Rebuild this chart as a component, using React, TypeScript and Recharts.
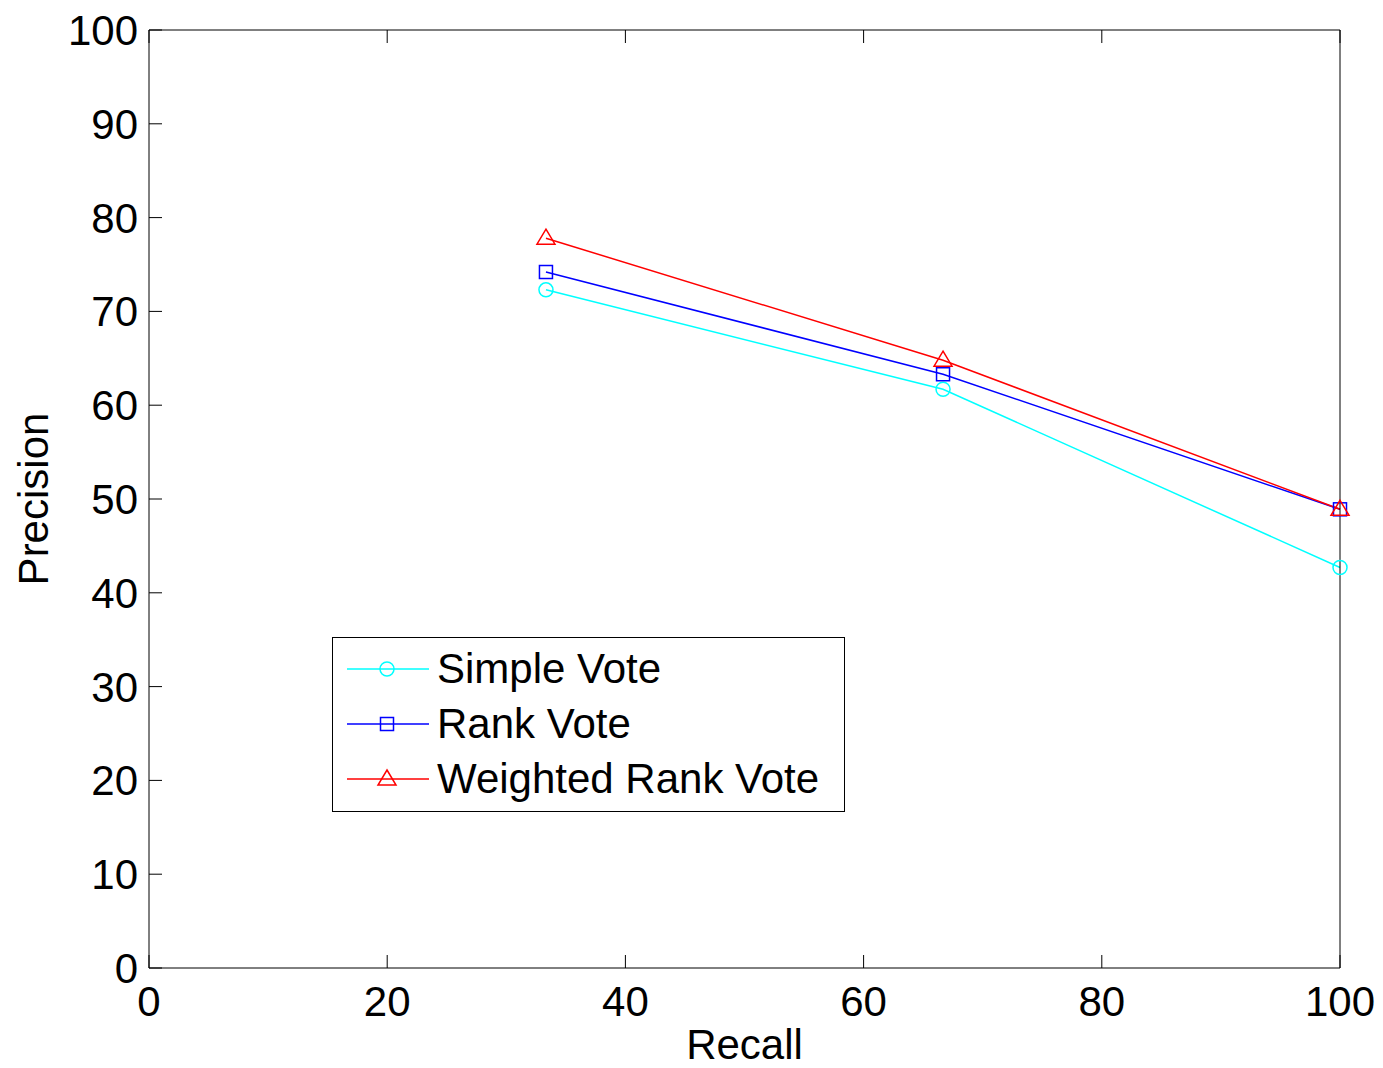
import { LineChart, Line, XAxis, YAxis, Legend } from "recharts";

const recall = [33.33, 66.67, 100];
const simpleVote = [72.3, 61.7, 42.7];
const rankVote = [74.2, 63.3, 48.9];
const weightedRankVote = [77.8, 64.8, 48.9];
const xTicks = [0, 20, 40, 60, 80, 100];
const yTicks = [0, 10, 20, 30, 40, 50, 60, 70, 80, 90, 100];
const seriesNames = ["Simple Vote", "Rank Vote", "Weighted Rank Vote"];

const data = recall.map((r, i) => ({
  recall: r,
  simple: simpleVote[i],
  rank: rankVote[i],
  weighted: weightedRankVote[i],
}));

const FONT = "'Liberation Sans', Arial, Helvetica, sans-serif";
const TICK_LEN = 13;

const shapes: Record<string, string> = {
  "Simple Vote": "circle",
  "Rank Vote": "square",
  "Weighted Rank Vote": "triangle",
};

const Marker = ({ shape, cx, cy, color }: any) => {
  if (shape === "circle")
    return <circle cx={cx} cy={cy} r={7} fill="none" stroke={color} strokeWidth={1.5} />;
  if (shape === "square")
    return (
      <rect x={cx - 6.5} y={cy - 6.5} width={13} height={13} fill="none" stroke={color} strokeWidth={1.5} />
    );
  return (
    <polygon
      points={`${cx},${cy - 9} ${cx + 9},${cy + 6} ${cx - 9},${cy + 6}`}
      fill="none"
      stroke={color}
      strokeWidth={1.5}
    />
  );
};

const makeDot = (shape: string, color: string) => (props: any) => (
  <Marker key={`${shape}-${props.index}`} shape={shape} cx={props.cx} cy={props.cy} color={color} />
);

const BottomTick = ({ x, y, payload }: any) => (
  <g>
    <line x1={x} y1={y} x2={x} y2={y - TICK_LEN} stroke="#000" />
    <text x={x} y={y + 48} textAnchor="middle" fontSize={42} fontFamily={FONT} fill="#000">
      {payload.value}
    </text>
  </g>
);

const TopTick = ({ x, y }: any) => (
  <line x1={x} y1={y} x2={x} y2={y + TICK_LEN} stroke="#000" />
);

const LeftTick = ({ x, y, payload }: any) => (
  <g>
    <line x1={x} y1={y} x2={x + TICK_LEN} y2={y} stroke="#000" />
    <text x={x - 11} y={y + 15} textAnchor="end" fontSize={42} fontFamily={FONT} fill="#000">
      {payload.value}
    </text>
  </g>
);

const RightTick = ({ x, y }: any) => (
  <line x1={x} y1={y} x2={x - TICK_LEN} y2={y} stroke="#000" />
);

const PrecisionLabel = ({ viewBox }: any) => {
  const cx = viewBox.x + 25;
  const cy = viewBox.y + viewBox.height / 2;
  return (
    <text
      x={cx}
      y={cy}
      transform={`rotate(-90, ${cx}, ${cy})`}
      textAnchor="middle"
      dominantBaseline="central"
      fontSize={42}
      fontFamily={FONT}
      fill="#000"
    >
      Precision
    </text>
  );
};

const LegendBox = ({ payload }: any) => {
  const rows = [32, 87, 142];
  const items = [...(payload || [])].sort(
    (a: any, b: any) => seriesNames.indexOf(a.value) - seriesNames.indexOf(b.value)
  );
  return (
    <svg width={513} height={175} style={{ display: "block" }}>
      <rect x={0.5} y={0.5} width={512} height={174} fill="#fff" stroke="#000" />
      {items.map((item: any, i: number) => (
        <g key={item.value}>
          <line x1={15} y1={rows[i]} x2={97} y2={rows[i]} stroke={item.color} strokeWidth={1.5} />
          <Marker shape={shapes[item.value]} cx={55} cy={rows[i]} color={item.color} />
          <text x={105} y={rows[i] + 14} fontSize={42} fontFamily={FONT} fill="#000">
            {item.value}
          </text>
        </g>
      ))}
    </svg>
  );
};

export default function App() {
  return (
    <LineChart
      width={1375}
      height={1060}
      data={data}
      margin={{ top: 21, right: 42, bottom: 0, left: 0 }}
      style={{ fontFamily: FONT, background: "#fff" }}
    >
      <XAxis
        xAxisId="bottom"
        dataKey="recall"
        type="number"
        domain={[0, 100]}
        ticks={xTicks}
        interval={0}
        height={100}
        tickSize={0}
        tickMargin={0}
        tickLine={false}
        axisLine={{ stroke: "#000" }}
        tick={<BottomTick />}
        label={{ value: "Recall", position: "insideBottom", offset: 9, fontSize: 42, fill: "#000" }}
      />
      <XAxis
        xAxisId="top"
        orientation="top"
        dataKey="recall"
        type="number"
        domain={[0, 100]}
        ticks={xTicks}
        interval={0}
        height={1}
        tickSize={0}
        tickMargin={0}
        tickLine={false}
        axisLine={{ stroke: "#000" }}
        tick={<TopTick />}
      />
      <YAxis
        yAxisId="left"
        type="number"
        domain={[0, 100]}
        ticks={yTicks}
        interval={0}
        width={141}
        tickSize={0}
        tickMargin={0}
        tickLine={false}
        axisLine={{ stroke: "#000" }}
        tick={<LeftTick />}
        label={<PrecisionLabel />}
      />
      <YAxis
        yAxisId="right"
        orientation="right"
        type="number"
        domain={[0, 100]}
        ticks={yTicks}
        interval={0}
        width={1}
        tickSize={0}
        tickMargin={0}
        tickLine={false}
        axisLine={{ stroke: "#000" }}
        tick={<RightTick />}
      />
      <Line
        xAxisId="bottom"
        yAxisId="left"
        dataKey="simple"
        name="Simple Vote"
        stroke="#00FFFF"
        strokeWidth={1.5}
        dot={makeDot("circle", "#00FFFF")}
        activeDot={false}
        isAnimationActive={false}
      />
      <Line
        xAxisId="bottom"
        yAxisId="left"
        dataKey="rank"
        name="Rank Vote"
        stroke="#0000FF"
        strokeWidth={1.5}
        dot={makeDot("square", "#0000FF")}
        activeDot={false}
        isAnimationActive={false}
      />
      <Line
        xAxisId="bottom"
        yAxisId="left"
        dataKey="weighted"
        name="Weighted Rank Vote"
        stroke="#FF0000"
        strokeWidth={1.5}
        dot={makeDot("triangle", "#FF0000")}
        activeDot={false}
        isAnimationActive={false}
      />
      <Legend
        layout="vertical"
        align="center"
        verticalAlign="middle"
        content={<LegendBox />}
        wrapperStyle={{ left: 324, top: 629, width: 513, height: 175 }}
      />
    </LineChart>
  );
}
